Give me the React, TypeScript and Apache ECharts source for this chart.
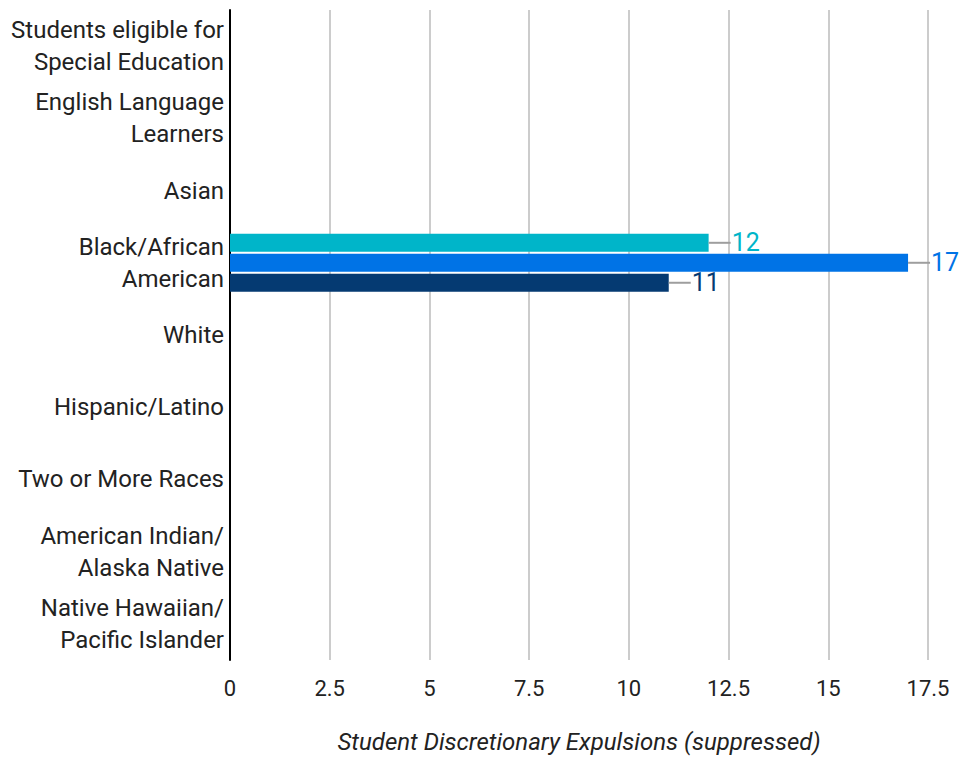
import React, { useEffect, useRef } from "react";
import * as echarts from "echarts";

const categories = [
  "Students eligible for\nSpecial Education",
  "English Language\nLearners",
  "Asian",
  "Black/African\nAmerican",
  "White",
  "Hispanic/Latino",
  "Two or More Races",
  "American Indian/\nAlaska Native",
  "Native Hawaiian/\nPacific Islander",
];

const seriesA = [null, null, null, 12, null, null, null, null, null];
const seriesB = [null, null, null, 17, null, null, null, null, null];
const seriesC = [null, null, null, 11, null, null, null, null, null];

const colors = ["#00b5c9", "#0073e6", "#053a72"];
const xTicks = { min: 0, max: 17.5, interval: 2.5 };
const axisName = "Student Discretionary Expulsions (suppressed)";

function makeSeries(name: string, data: (number | null)[], color: string) {
  return {
    name,
    type: "bar",
    data,
    barWidth: 18,
    barGap: "11%",
    itemStyle: { color },
    label: {
      show: true,
      position: "right",
      distance: 0,
      formatter: (p: any) => "{l|}{v|" + p.value + "}",
      rich: {
        l: { width: 22, height: 2, backgroundColor: "#9e9e9e", verticalAlign: "middle" },
        v: { color, fontSize: 25, fontFamily: "Roboto", verticalAlign: "middle", padding: [0, 0, 0, 1] },
      },
    },
  };
}

export default function App() {
  const ref = useRef<HTMLDivElement>(null);
  useEffect(() => {
    if (!ref.current) return;
    const chart = echarts.init(ref.current, null, { renderer: "svg" });
    chart.setOption({
      animation: false,
      textStyle: { fontFamily: "Roboto" },
      grid: { left: 230, right: 48, top: 10, bottom: 98, containLabel: false },
      xAxis: {
        type: "value",
        min: xTicks.min,
        max: xTicks.max,
        interval: xTicks.interval,
        axisLine: { show: false },
        axisTick: { show: false },
        splitLine: { lineStyle: { color: "#cccccc", width: 2 } },
        axisLabel: { color: "#222", fontSize: 22, margin: 17, fontFamily: "Roboto" },
        name: axisName,
        nameLocation: "middle",
        nameGap: 70,
        nameTextStyle: { fontStyle: "italic", fontSize: 24, color: "#222", fontFamily: "Roboto" },
      },
      yAxis: {
        type: "category",
        data: categories,
        inverse: true,
        axisLine: { show: true, lineStyle: { color: "#000", width: 2 } },
        axisTick: { show: false },
        axisLabel: {
          color: "#222",
          fontSize: 24,
          lineHeight: 32,
          margin: 6,
          align: "right",
        },
      },
      series: [
        makeSeries("A", seriesA, colors[0]),
        makeSeries("B", seriesB, colors[1]),
        makeSeries("C", seriesC, colors[2]),
      ],
    });
    return () => chart.dispose();
  }, []);
  return <div ref={ref} style={{ width: 976, height: 759, position: "absolute", left: 0, top: 0 }} />;
}
